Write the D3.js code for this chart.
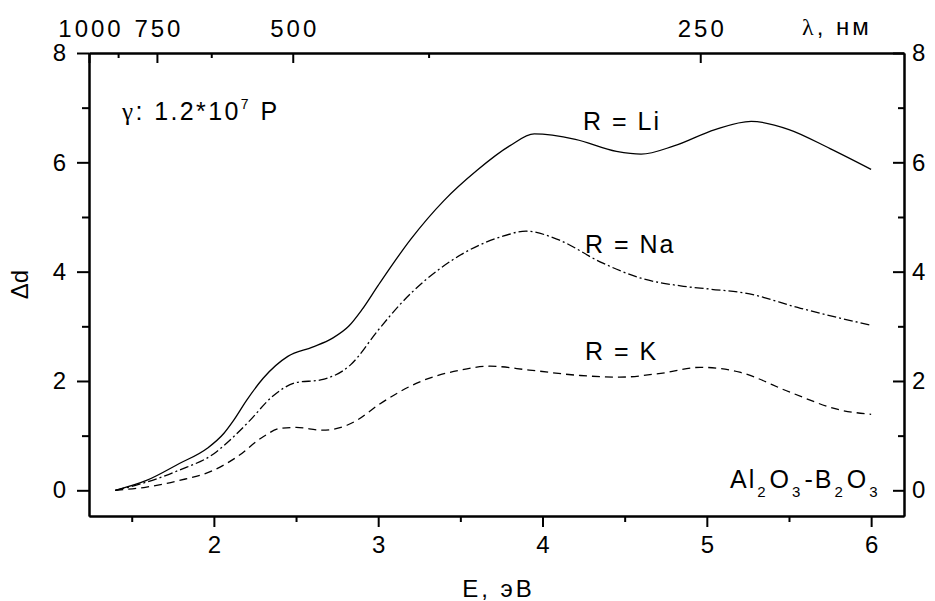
<!DOCTYPE html>
<html>
<head>
<meta charset="utf-8">
<script src="https://cdn.jsdelivr.net/npm/d3@7"></script>
<style>
    body { margin: 0; background: #fff; }
    svg text { font-family: "Liberation Sans", Arial, sans-serif; fill: #000; }
    .axis path, .axis line { stroke: #000; stroke-width: 2; }
    .axis text { font-size: 24px; }
    .line { fill: none; stroke: #000; stroke-width: 1.3; }
</style>
</head>
<body>
<svg id="chart" width="935" height="601"></svg>
<script>
// Энергия, эВ и изменение оптической плотности для трёх составов
let eLi = [1.4, 1.59, 1.79, 1.96, 2.06, 2.12, 2.2, 2.3, 2.45, 2.6, 2.72, 2.82, 2.9, 3.0, 3.2, 3.4, 3.6, 3.8, 3.95, 4.2, 4.45, 4.6, 4.8, 5.05, 5.27, 5.5, 5.75, 6.0];
let dLi = [0, 0.18, 0.49, 0.77, 1.04, 1.28, 1.65, 2.05, 2.45, 2.62, 2.78, 3.0, 3.3, 3.75, 4.6, 5.3, 5.85, 6.3, 6.52, 6.42, 6.2, 6.15, 6.3, 6.6, 6.75, 6.6, 6.25, 5.87];

let eNa = [1.4, 1.59, 1.79, 2.0, 2.12, 2.22, 2.35, 2.5, 2.65, 2.83, 3.0, 3.13, 3.45, 3.74, 3.9, 4.1, 4.35, 4.6, 4.84, 5.02, 5.23, 5.57, 5.81, 6.0];
let dNa = [0, 0.15, 0.37, 0.67, 0.98, 1.28, 1.7, 1.97, 2.02, 2.29, 2.93, 3.39, 4.21, 4.63, 4.74, 4.58, 4.18, 3.88, 3.74, 3.68, 3.61, 3.33, 3.15, 3.02];

let eK = [1.4, 1.59, 1.79, 2.0, 2.14, 2.3, 2.4, 2.5, 2.66, 2.81, 2.87, 3.0, 3.25, 3.5, 3.68, 3.92, 4.23, 4.47, 4.72, 4.96, 5.2, 5.51, 5.81, 6.0];
let dK = [0, 0.06, 0.18, 0.37, 0.61, 0.98, 1.13, 1.15, 1.1, 1.19, 1.28, 1.56, 1.98, 2.2, 2.27, 2.2, 2.1, 2.07, 2.14, 2.25, 2.16, 1.79, 1.47, 1.39];

// Деления осей
let xTicks = [2, 3, 4, 5, 6];
let xMinor = [1.5, 2.5, 3.5, 4.5, 5.5];
let yTicks = [0, 2, 4, 6, 8];
let yMinor = [1, 3, 5, 7];
let lamTicks = [1000, 750, 500, 250];
let lamMinor = [875, 625, 375];

let margin = { top: 53, right: 31, bottom: 85, left: 89 };
let width = 935 - margin.left - margin.right;
let height = 601 - margin.top - margin.bottom;

let svg = d3.select("#chart")
    .append("g")
    .attr("transform", `translate(${margin.left},${margin.top})`);

let x = d3.scaleLinear().domain([1.24, 6.2]).range([0, width]);
let y = d3.scaleLinear().domain([-0.47, 8]).range([height, 0]);

let hcToE = l => 1240 / l;

// Нижняя ось
svg.append("g")
    .attr("class", "axis")
    .attr("transform", `translate(0,${height})`)
    .call(d3.axisBottom(x).tickValues(xTicks).tickFormat(d3.format("d")).tickSize(11).tickSizeOuter(0).tickPadding(9));
svg.append("g")
    .attr("class", "axis")
    .attr("transform", `translate(0,${height})`)
    .call(d3.axisBottom(x).tickValues(xMinor).tickFormat("").tickSize(6).tickSizeOuter(0));

// Верхняя ось (длина волны)
let topAxis = svg.append("g")
    .attr("class", "axis")
    .call(d3.axisTop(x).tickValues(lamTicks.map(hcToE)).tickFormat(e => Math.round(1240 / e)).tickSize(-10).tickSizeOuter(0).tickPadding(16));
topAxis.selectAll("text").style("letter-spacing", "3px").attr("dx", 1.5);
svg.append("g")
    .attr("class", "axis")
    .call(d3.axisTop(x).tickValues(lamMinor.map(hcToE)).tickFormat("").tickSize(-5).tickSizeOuter(0));

// Левая ось
svg.append("g")
    .attr("class", "axis")
    .call(d3.axisLeft(y).tickValues(yTicks).tickFormat(d3.format("d")).tickSize(12).tickSizeOuter(0).tickPadding(11));
svg.append("g")
    .attr("class", "axis")
    .call(d3.axisLeft(y).tickValues(yMinor).tickFormat("").tickSize(7).tickSizeOuter(0));

// Правая ось
svg.append("g")
    .attr("class", "axis")
    .attr("transform", `translate(${width},0)`)
    .call(d3.axisRight(y).tickValues(yTicks).tickFormat(d3.format("d")).tickSize(-11).tickSizeOuter(0).tickPadding(8));
svg.append("g")
    .attr("class", "axis")
    .attr("transform", `translate(${width},0)`)
    .call(d3.axisRight(y).tickValues(yMinor).tickFormat("").tickSize(-6).tickSizeOuter(0));

// Кривые
let line = d3.line()
    .x(d => x(d[0]))
    .y(d => y(d[1]))
    .curve(d3.curveMonotoneX);

let series = [
    { e: eLi, d: dLi, dash: null },
    { e: eNa, d: dNa, dash: "9,3,2,3" },
    { e: eK, d: dK, dash: "8,5" }
];

series.forEach(s => {
    svg.append("path")
        .datum(d3.zip(s.e, s.d))
        .attr("class", "line")
        .attr("stroke-dasharray", s.dash)
        .attr("d", line);
});

// Подписи осей
svg.append("text")
    .attr("x", width / 2 + 2)
    .attr("y", height + 81)
    .attr("text-anchor", "middle")
    .style("font-size", "24px")
    .style("letter-spacing", "3px")
    .text("E, эВ");

svg.append("text")
    .attr("transform", `translate(${-margin.left + 28},${height / 2}) rotate(-90)`)
    .attr("text-anchor", "middle")
    .style("font-size", "24px")
    .text("Δd");

let lam = svg.append("text")
    .attr("x", 713)
    .attr("y", -18)
    .style("font-size", "24px")
    .style("letter-spacing", "3px");
lam.append("tspan").style("font-family", "Liberation Serif").text("λ");
lam.append("tspan").text(", нм");

// Аннотации
let gamma = svg.append("text")
    .attr("x", 33)
    .attr("y", 67)
    .style("font-size", "25px")
    .style("letter-spacing", "2.4px");
gamma.append("tspan").style("font-family", "Liberation Serif").text("γ");
gamma.append("tspan").text(": 1.2*10");
gamma.append("tspan").attr("dy", -11).style("font-size", "14px").text("7");
gamma.append("tspan").attr("dy", 11).text(" P");

let labels = [
    { text: "R = Li", x: 494, y: 77 },
    { text: "R = Na", x: 496, y: 200 },
    { text: "R = K", x: 496, y: 307 }
];
labels.forEach(l => {
    svg.append("text")
        .attr("x", l.x)
        .attr("y", l.y)
        .style("font-size", "25px")
        .style("letter-spacing", "2px")
        .text(l.text);
});

let comp = svg.append("text")
    .attr("x", 641)
    .attr("y", 435)
    .style("font-size", "25px")
    .style("letter-spacing", "2px");
[["Al", 0], ["2", 1], ["O", 0], ["3", 1], ["-B", 0], ["2", 1], ["O", 0], ["3", 1]].forEach(p => {
    let t = comp.append("tspan").text(p[0]);
    if (p[1]) {
        t.attr("dy", 9).style("font-size", "15px").attr("dx", 1);
    } else {
        t.attr("dy", -9).attr("dx", 2);
    }
});
comp.select("tspan").attr("dy", 0).attr("dx", 0);
</script>
</body>
</html>
